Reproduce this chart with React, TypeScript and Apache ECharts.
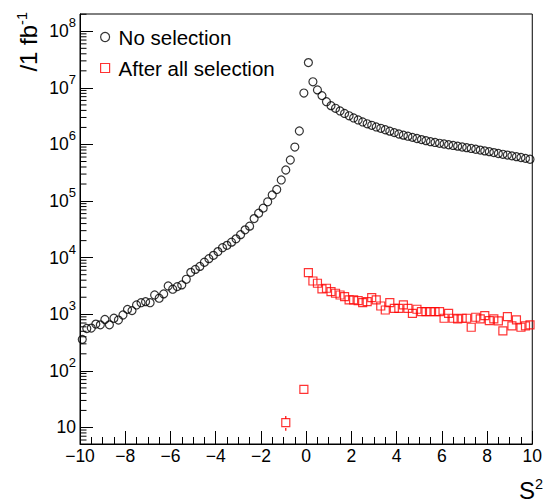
import React, { useEffect, useRef } from "react";
import * as echarts from "echarts";

const FONT = '"Liberation Sans", Arial, Helvetica, sans-serif';

// bin centres (bin width 0.2)
const binCenters = [
  -9.9, -9.7, -9.5, -9.3, -9.1, -8.9, -8.7, -8.5, -8.3, -8.1,
  -7.9, -7.7, -7.5, -7.3, -7.1, -6.9, -6.7, -6.5, -6.3, -6.1,
  -5.9, -5.7, -5.5, -5.3, -5.1, -4.9, -4.7, -4.5, -4.3, -4.1,
  -3.9, -3.7, -3.5, -3.3, -3.1, -2.9, -2.7, -2.5, -2.3, -2.1,
  -1.9, -1.7, -1.5, -1.3, -1.1, -0.9, -0.7, -0.5, -0.3, -0.1,
  0.1, 0.3, 0.5, 0.7, 0.9, 1.1, 1.3, 1.5, 1.7, 1.9,
  2.1, 2.3, 2.5, 2.7, 2.9, 3.1, 3.3, 3.5, 3.7, 3.9,
  4.1, 4.3, 4.5, 4.7, 4.9, 5.1, 5.3, 5.5, 5.7, 5.9,
  6.1, 6.3, 6.5, 6.7, 6.9, 7.1, 7.3, 7.5, 7.7, 7.9,
  8.1, 8.3, 8.5, 8.7, 8.9, 9.1, 9.3, 9.5, 9.7, 9.9,
];

// "No selection" (events / 1 fb^-1)
const noSelection = [
  360, 560, 570, 670, 650, 810, 650, 850, 790, 970,
  1220, 1160, 1460, 1600, 1670, 1600, 2190, 1920, 2290, 3160,
  2770, 3080, 3300, 4150, 5500, 6200, 7000, 8300, 9600, 11000,
  12800, 15000, 16500, 18800, 21500, 25500, 31000, 36000, 49000, 61000,
  75000, 97000, 128000, 160000, 236000, 354000, 532000, 900000, 1730000, 8100000,
  28000000, 12800000, 9200000, 7300000, 5700000, 4850000, 4360000, 3910000, 3530000, 3210000,
  2940000, 2710000, 2500000, 2320000, 2180000, 2040000, 1930000, 1820000, 1720000, 1620000,
  1530000, 1460000, 1400000, 1335000, 1276000, 1220000, 1167000, 1120000, 1085000, 1050000,
  1020000, 988000, 960000, 933000, 903000, 878000, 850000, 823000, 796000, 770000,
  746000, 719000, 693000, 671000, 650000, 629000, 609000, 589000, 568000, 548000,
];

// "After all selection" (only non-empty bins)
const afterSelX = [
  -0.9, -0.1,
  0.1, 0.3, 0.5, 0.7, 0.9, 1.1, 1.3, 1.5, 1.7, 1.9,
  2.1, 2.3, 2.5, 2.7, 2.9, 3.1, 3.3, 3.5, 3.7, 3.9,
  4.1, 4.3, 4.5, 4.7, 4.9, 5.1, 5.3, 5.5, 5.7, 5.9,
  6.1, 6.3, 6.5, 6.7, 6.9, 7.1, 7.3, 7.5, 7.7, 7.9,
  8.1, 8.3, 8.5, 8.7, 8.9, 9.1, 9.3, 9.5, 9.7, 9.9,
];
const afterSelY = [
  12.2, 47,
  5430, 3870, 3530, 2800, 2880, 2510, 2350, 2190, 2050, 1790,
  1790, 1740, 1600, 1670, 1960, 1790, 1400, 1190, 1600, 1275,
  1275, 1460, 1275, 1040, 1225, 1110, 1110, 1110, 1110, 1110,
  850, 1040, 850, 826, 850, 850, 590, 885, 826, 945,
  770, 826, 762, 507, 907, 621, 793, 590, 621, 647,
];
// visible error bar of the lowest bin: [x, low, high]
const afterSelErrors = [[-0.9, 8.7, 16]];

const xMin = -10;
const xMax = 10;
const yMin = 5.1;
const yMax = 2.02e8;

// minor tick positions of the log axis (2..9 x 10^n)
const yMinorTicks: number[] = [];
for (let e = 0; e <= 8; e++) {
  for (let k = 2; k <= 9; k++) {
    const v = k * Math.pow(10, e);
    if (v > yMin && v < yMax) yMinorTicks.push(v);
  }
}

export default function App() {
  const ref = useRef<HTMLDivElement>(null);
  useEffect(() => {
    document.body.style.margin = "0";
    const chart = echarts.init(ref.current!, null, { renderer: "svg" });
    const option: any = {
      animation: false,
      backgroundColor: "#fff",
      textStyle: { fontFamily: FONT },
      grid: {
        left: 80,
        right: 10,
        top: 14,
        bottom: 58,
        show: true,
        borderColor: "#000",
        borderWidth: 1,
        backgroundColor: "transparent",
      },
      legend: {
        orient: "vertical",
        left: 100,
        top: 26,
        padding: 0,
        itemWidth: 17,
        itemHeight: 9,
        itemGap: 9,
        textStyle: { fontSize: 20.5, fontFamily: FONT, color: "#000", lineHeight: 22 },
        data: [
          {
            name: "No selection",
            icon: "circle",
            itemStyle: { color: "rgba(0,0,0,0)", borderColor: "#000", borderWidth: 1.2 },
          },
          {
            name: "After all selection",
            icon: "path://M0 0H10V10H0Z",
            itemStyle: { color: "rgba(0,0,0,0)", borderColor: "#ff0000", borderWidth: 1.2 },
          },
        ],
        selectedMode: false,
      },
      xAxis: {
        type: "value",
        min: xMin,
        max: xMax,
        interval: 2,
        axisLine: { show: true, onZero: false, lineStyle: { color: "#000", width: 1 } },
        axisTick: { show: true, inside: true, length: 13, lineStyle: { color: "#000", width: 1 } },
        minorTick: { show: true, splitNumber: 4, length: 7, lineStyle: { color: "#000", width: 1 } },
        splitLine: { show: false },
        axisLabel: {
          color: "#000",
          fontSize: 17.5,
          fontFamily: FONT,
          margin: 3,
          formatter: (v: number) => (v < 0 ? "\u2212" + Math.abs(v) : String(v)),
        },
      },
      yAxis: {
        type: "log",
        logBase: 10,
        min: yMin,
        max: yMax,
        axisLine: { show: true, onZero: false, lineStyle: { color: "#000", width: 1 } },
        axisTick: { show: true, inside: true, length: 13, lineStyle: { color: "#000", width: 1 } },
        minorTick: { show: false },
        splitLine: { show: false },
        axisLabel: {
          color: "#000",
          fontFamily: FONT,
          margin: 4,
          padding: [0, 0, 6, 0],
          showMinLabel: false,
          showMaxLabel: false,
          formatter: (v: number) => {
            const e = Math.round(Math.log10(v));
            if (Math.abs(Math.log10(v) - e) > 1e-6) return "";
            if (e === 1) return "{b|10}{h|}";
            return "{b|10}{s|" + e + "}{h|}";
          },
          rich: {
            b: { fontSize: 17.5, lineHeight: 18, verticalAlign: "bottom", fontFamily: FONT, color: "#000" },
            s: { fontSize: 13, lineHeight: 13, verticalAlign: "top", fontFamily: FONT, color: "#000" },
            h: { lineHeight: 24, width: 0, fontSize: 1 },
          },
        },
      },
      graphic: [
        {
          type: "text",
          x: 27,
          y: 12,
          rotation: Math.PI / 2,
          style: {
            text: "{a|/1 fb}{s|-1}{h|}",
            align: "right",
            verticalAlign: "middle",
            fill: "#000",
            rich: {
              a: { fontSize: 24, lineHeight: 24, verticalAlign: "bottom", fontFamily: FONT, fill: "#000" },
              s: { fontSize: 14.5, lineHeight: 15, verticalAlign: "top", fontFamily: FONT, fill: "#000" },
              h: { lineHeight: 26, width: 0, fontSize: 1 },
            },
          },
        },
        {
          type: "text",
          x: 543,
          y: 489,
          style: {
            text: "{a|S}{s|2}{h|}",
            align: "right",
            verticalAlign: "middle",
            fill: "#000",
            rich: {
              a: { fontSize: 24, lineHeight: 24, verticalAlign: "bottom", fontFamily: FONT, fill: "#000" },
              s: { fontSize: 14.5, lineHeight: 15, verticalAlign: "top", fontFamily: FONT, fill: "#000" },
              h: { lineHeight: 26, width: 0, fontSize: 1 },
            },
          },
        },
      ],
      series: [
        {
          name: "No selection",
          type: "scatter",
          symbol: "circle",
          symbolSize: 8,
          itemStyle: { color: "rgba(0,0,0,0)", borderColor: "#000", borderWidth: 1.2 },
          data: binCenters.map((x, i) => [x, noSelection[i]]),
          z: 3,
          silent: true,
        },
        {
          name: "After all selection",
          type: "scatter",
          symbol: "rect",
          symbolSize: 8,
          itemStyle: { color: "rgba(0,0,0,0)", borderColor: "#ff0000", borderWidth: 1.2 },
          data: afterSelX.map((x, i) => [x, afterSelY[i]]),
          z: 4,
          silent: true,
        },
        {
          name: "errors",
          type: "custom",
          silent: true,
          z: 4,
          data: afterSelErrors,
          renderItem: (params: any, api: any) => {
            const x = api.value(0);
            const pLo = api.coord([x, api.value(1)]);
            const pHi = api.coord([x, api.value(2)]);
            return {
              type: "group",
              children: [
                { type: "line", shape: { x1: pLo[0], y1: pLo[1], x2: pLo[0], y2: pLo[1] - (pLo[1] - pHi[1]) / 2 + 4.5 }, style: { stroke: "#ff0000", lineWidth: 1.2 } },
                { type: "line", shape: { x1: pHi[0], y1: pHi[1], x2: pHi[0], y2: pHi[1] + (pLo[1] - pHi[1]) / 2 - 4.5 }, style: { stroke: "#ff0000", lineWidth: 1.2 } },
              ],
            };
          },
        },
        {
          name: "yMinorTicks",
          type: "custom",
          silent: true,
          z: 5,
          data: yMinorTicks.map((v) => [xMin, v]),
          renderItem: (params: any, api: any) => {
            const p = api.coord([api.value(0), api.value(1)]);
            return {
              type: "line",
              shape: { x1: p[0], y1: p[1], x2: p[0] + 6.5, y2: p[1] },
              style: { stroke: "#000", lineWidth: 1 },
            };
          },
        },
      ],
    };
    chart.setOption(option);
    return () => chart.dispose();
  }, []);
  return <div ref={ref} style={{ width: 545, height: 502 }} />;
}
